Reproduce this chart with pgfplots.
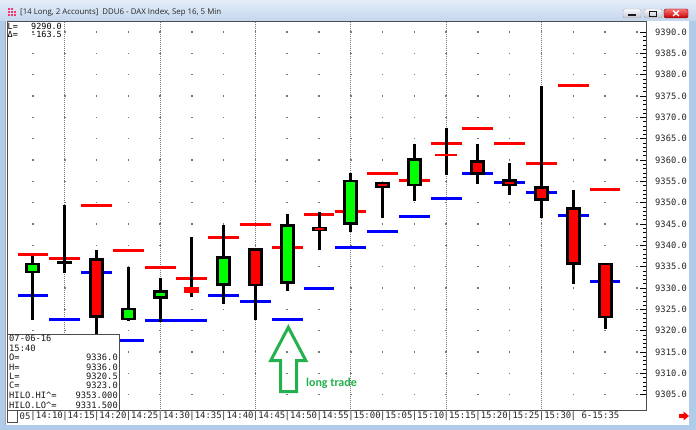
\documentclass[border=0pt]{standalone}
\usepackage{pgfplots}
\pgfplotsset{compat=1.18}
\usepackage{pgfplotstable}
\usepackage{fontspec}
\setmainfont{Open Sans}
\newfontfamily\monofont{DejaVu Sans Mono}
\newfontfamily\calfont{Carlito}
\definecolor{cgreen}{RGB}{0,255,0}
\definecolor{cred}{RGB}{255,0,0}
\definecolor{cblue}{RGB}{0,0,255}
\definecolor{tradegreen}{RGB}{34,177,76}
\definecolor{titletop}{RGB}{228,237,248}
\definecolor{titlebot}{RGB}{196,215,238}
\definecolor{frameblue}{RGB}{176,204,234}
\definecolor{gridgray}{RGB}{120,120,120}

% all candles: x O H L C
\pgfplotstableread{
x O H L C
0 9333.5 9337.5 9322.5 9336.0
1 9336.0 9349.5 9333.5 9336.0
2 9337.0 9339.0 9319.0 9323.0
3 9322.5 9335.0 9322.5 9325.5
4 9327.5 9332.5 9322.0 9329.5
5 9330.3 9342.0 9328.0 9328.9
6 9330.5 9345.0 9326.5 9337.5
7 9339.5 9339.5 9322.5 9330.5
8 9331.0 9347.5 9329.5 9345.0
9 9344.5 9348.0 9339.0 9343.5
10 9345.0 9357.0 9343.0 9355.5
11 9355.0 9355.0 9346.5 9353.5
12 9354.0 9364.0 9350.5 9360.5
13 9361.2 9367.7 9356.5 9361.2
14 9360.0 9364.0 9354.5 9356.5
15 9355.5 9359.5 9352.0 9354.0
16 9354.0 9377.5 9346.5 9350.5
17 9349.0 9353.0 9331.0 9335.5
18 9336.0 9336.0 9320.5 9323.0
}\candles

\pgfplotstableread{
x O C
0 9333.5 9336.0
3 9322.5 9325.5
4 9327.5 9329.5
6 9330.5 9337.5
8 9331.0 9345.0
10 9345.0 9355.5
12 9354.0 9360.5
}\greenbodies

\pgfplotstableread{
x O C
2 9337.0 9323.0
7 9339.5 9330.5
9 9344.5 9343.5
11 9355.0 9353.5
14 9360.0 9356.5
15 9355.5 9354.0
16 9354.0 9350.5
17 9349.0 9335.5
18 9336.0 9323.0
}\redbodies

\pgfplotstableread{
x O C
1 9336.0 9336.0
}\dojibodies

% HILO.HI (red) and HILO.LO (blue)
\pgfplotstableread{
x hi lo
0 9337.8 9328.2
1 9336.8 9322.7
2 9349.3 9333.7
3 9338.8 9317.7
4 9334.8 9322.3
5 9332.3 9322.3
6 9341.8 9328.2
7 9344.9 9326.8
8 9339.4 9322.7
9 9347.3 9329.8
10 9347.9 9339.4
11 9356.9 9343.3
12 9355.3 9346.8
13 9363.9 9351.0
14 9367.3 9356.9
15 9363.8 9354.8
16 9359.2 9352.3
17 9377.4 9346.9
18 9353.0 9331.5
}\hilo

\pgfplotsset{
  nomark/.style={only marks, mark=*, mark size=0pt, mark options={draw=none, fill=none}},
}

\begin{document}
\begin{tikzpicture}
\useasboundingbox (0,0) rectangle (696bp,430bp);
\fill[white] (0,0) rectangle (696bp,430bp);
% window frame
\shade[top color=titletop, bottom color=titlebot] (0,409bp) rectangle (696bp,430bp);
\fill[frameblue] (0,0) rectangle (5bp,409bp);
\fill[frameblue] (689bp,0) rectangle (696bp,409bp);
\fill[frameblue] (0,0) rectangle (696bp,5bp);
\draw[gray!70, line width=0.5bp] (5.5bp,5bp) -- (5.5bp,409bp);
% title icon
\foreach \i/\j in {0/0,1/0,2/0,0/1,2/1,1/1,0/2,1/2}{
  \fill[red!70!magenta!80] (8bp+3bp*\i,413.5bp+3bp*\j) rectangle ++(2.2bp,2.2bp);
}
\node[anchor=west, inner sep=0pt, font=\fontsize{7.9}{9}\selectfont, text=black!85] at (20bp,418bp) {[14 Long, 2 Accounts]\ \ DDU6 - DAX Index, Sep 16, 5 Min};
% window buttons
\shade[top color=white!90!blue!20, bottom color=blue!15!gray!40, draw=gray!70, rounded corners=1.5bp] (623bp,412bp) rectangle (641bp,421bp);
\draw[gray!20!black, line width=1.2bp] (628bp,415bp) -- (636bp,415bp);
\shade[top color=white!90!blue!20, bottom color=blue!15!gray!40, draw=gray!70, rounded corners=1.5bp] (644bp,412bp) rectangle (662bp,421bp);
\draw[gray!20!black, line width=0.8bp] (649.5bp,414bp) rectangle (656.5bp,419bp);
\shade[top color=red!55!white, bottom color=red!75!black, draw=red!50!black, rounded corners=1.5bp] (664bp,412bp) rectangle (688bp,421bp);
\draw[white, line width=1.3bp] (673bp,414bp) -- (679bp,419.5bp) (673bp,419.5bp) -- (679bp,414bp);

\begin{axis}[
  at={(7bp,20bp)}, anchor=south west,
  width=639bp, height=389bp, scale only axis,
  xmin=-0.818, xmax=19.29, ymin=9301.39, ymax=9392.58,
  axis line style={draw=gray!60!black, line width=0.5bp},
  ytick={9305,9310,...,9390},
  minor y tick num=4,
  ytick pos=right, yticklabel pos=right,
  tick align=inside,
  major tick length=6bp, minor tick length=3bp,
  every tick/.style={black, line width=0.5bp},
  yticklabel style={inner sep=0pt, anchor=west, xshift=9bp, font=\monofont\fontsize{8.8}{10}\selectfont, text=black!85},
  yticklabel={\pgfmathprintnumber[fixed,fixed zerofill,precision=1,1000 sep={},assume math mode=true]{\tick}},
  xtick={0,...,17},
  xticklabels={|14:10,|14:15,|14:20,|14:25,|14:30,|14:35,|14:40,|14:45,|14:50,|14:55,|15:00,|15:05,|15:10,|15:15,|15:20,|15:25,|15:30,{|\ 6-15:35}},
  major x tick style={draw=none},
  xticklabel style={inner sep=0pt, anchor=west, xshift=-2.7bp, yshift=-6.5bp, font=\monofont\fontsize{9}{10}\selectfont, text=black!85},
  ymajorgrids=true,
  major grid style={draw=gridgray, line width=1.5bp, dash pattern=on 1.5bp off 30.28bp, dash phase=6.53bp},
  extra x ticks={1,4,7,10,13,16},
  extra x tick labels={},
  extra x tick style={grid=major, major grid style={draw=gridgray, line width=0.7bp, dash pattern=on 1bp off 1bp}},
]
% HILO lines
\addplot[nomark, error bars/.cd, x dir=both, x fixed=0.485, error mark=none,
  error bar style={cred, line width=3bp}] table[x=x, y=hi] {\hilo};
\addplot[nomark, error bars/.cd, x dir=both, x fixed=0.485, error mark=none,
  error bar style={cblue, line width=3bp}] table[x=x, y=lo] {\hilo};
% wicks
\addplot[nomark, error bars/.cd, y dir=both, y explicit, error mark=none,
  error bar style={black, line width=3bp}]
  table[x=x, y expr={(\thisrow{H}+\thisrow{L})/2}, y error expr={(\thisrow{H}-\thisrow{L})/2}] {\candles};
% green bodies
\addplot[nomark, error bars/.cd, y dir=both, y explicit, error mark=none,
  error bar style={black, line width=15bp}]
  table[x=x, y expr={(\thisrow{O}+\thisrow{C})/2}, y error expr={max(abs(\thisrow{C}-\thisrow{O})/2,0.4)}] {\greenbodies};
\addplot[nomark, error bars/.cd, y dir=both, y explicit, error mark=none,
  error bar style={cgreen, line width=9bp}]
  table[x=x, y expr={(\thisrow{O}+\thisrow{C})/2}, y error expr={max(abs(\thisrow{C}-\thisrow{O})/2-0.62,0.15)}] {\greenbodies};
% red bodies
\addplot[nomark, error bars/.cd, y dir=both, y explicit, error mark=none,
  error bar style={black, line width=15bp}]
  table[x=x, y expr={(\thisrow{O}+\thisrow{C})/2}, y error expr={max(abs(\thisrow{C}-\thisrow{O})/2,0.4)}] {\redbodies};
\addplot[nomark, error bars/.cd, y dir=both, y explicit, error mark=none,
  error bar style={cred, line width=9bp}]
  table[x=x, y expr={(\thisrow{O}+\thisrow{C})/2}, y error expr={max(abs(\thisrow{C}-\thisrow{O})/2-0.62,0.15)}] {\redbodies};
% doji
\addplot[nomark, error bars/.cd, y dir=both, y explicit, error mark=none,
  error bar style={black, line width=15bp}]
  table[x=x, y expr={(\thisrow{O}+\thisrow{C})/2}, y error expr={0.4}] {\dojibodies};
% plain red bodies (14:35 and 15:15)
\addplot[nomark, error bars/.cd, y dir=both, y fixed=0.7, error mark=none,
  error bar style={cred, line width=15bp}] coordinates {(5,9329.6)};
\addplot[nomark, error bars/.cd, x dir=both, x fixed=0.35, error mark=none,
  error bar style={cred, line width=2.5bp}] coordinates {(13,9361.2)};
\end{axis}

% top-left readout
\draw[gridgray, line width=0.6bp, dash pattern=on 1bp off 1bp] (64bp,389bp) -- (64bp,409bp);
\node[anchor=base west, inner sep=0pt, font=\monofont\fontsize{8.5}{9}\selectfont] at (7.5bp,400bp) {L=};
\node[anchor=base east, inner sep=0pt, font=\monofont\fontsize{8.5}{9}\selectfont] at (62bp,400bp) {9290.0};
\node[anchor=base west, inner sep=0pt, font=\monofont\fontsize{8.5}{9}\selectfont] at (7.5bp,392.5bp) {Δ=};
\node[anchor=base east, inner sep=0pt, font=\monofont\fontsize{8.5}{9}\selectfont] at (62bp,392.5bp) {-163.5};

% info box
\fill[white] (7bp,20bp) rectangle (119bp,96bp);
\draw[black!70, line width=0.6bp] (7bp,20bp) -- (7bp,96bp) -- (119bp,96bp) -- (119bp,20bp);
\begin{scope}[every node/.style={inner sep=0pt, font=\monofont\fontsize{8.8}{9}\selectfont, text=black!90}]
\node[anchor=base west] at (9bp,88bp) {07-06-16};
\node[anchor=base west] at (9bp,78.5bp) {15:40};
\node[anchor=base west] at (9bp,69bp) {O=};
\node[anchor=base east] at (118bp,69bp) {9336.0};
\node[anchor=base west] at (9bp,59.5bp) {H=};
\node[anchor=base east] at (118bp,59.5bp) {9336.0};
\node[anchor=base west] at (9bp,50.5bp) {L=};
\node[anchor=base east] at (118bp,50.5bp) {9320.5};
\node[anchor=base west] at (9bp,41bp) {C=};
\node[anchor=base east] at (118bp,41bp) {9323.0};
\node[anchor=base west] at (9bp,31.3bp) {HILO.HI\^{}=};
\node[anchor=base east] at (118bp,31.3bp) {9353.000};
\node[anchor=base west] at (9bp,21.5bp) {HILO.LO\^{}=};
\node[anchor=base east] at (118bp,21.5bp) {9331.500};
\end{scope}

% bottom strip left bits
\draw[black!70, line width=0.6bp] (7bp,8bp) rectangle (17bp,20bp);
\node[anchor=west, inner sep=0pt, font=\monofont\fontsize{9}{10}\selectfont, text=black!85] at (19.5bp,13.5bp) {05};

% red arrow bottom right
\fill[cred] (679bp,12.3bp) rectangle (684bp,15.7bp);
\fill[cred] (683.5bp,9.5bp) -- (689bp,14bp) -- (683.5bp,18.5bp) -- cycle;

% long trade annotation
\draw[tradegreen, line width=3bp, line join=miter] (280.7bp,38.3bp) -- (296.7bp,38.3bp) -- (296.7bp,69.3bp) -- (305.9bp,69.3bp) -- (288.3bp,102.7bp) -- (270.7bp,69.3bp) -- (280.7bp,69.3bp) -- cycle;
\node[font=\calfont\bfseries\fontsize{12}{13}\selectfont, text=tradegreen] at (331.5bp,47bp) {long trade};
\end{tikzpicture}
\end{document}
